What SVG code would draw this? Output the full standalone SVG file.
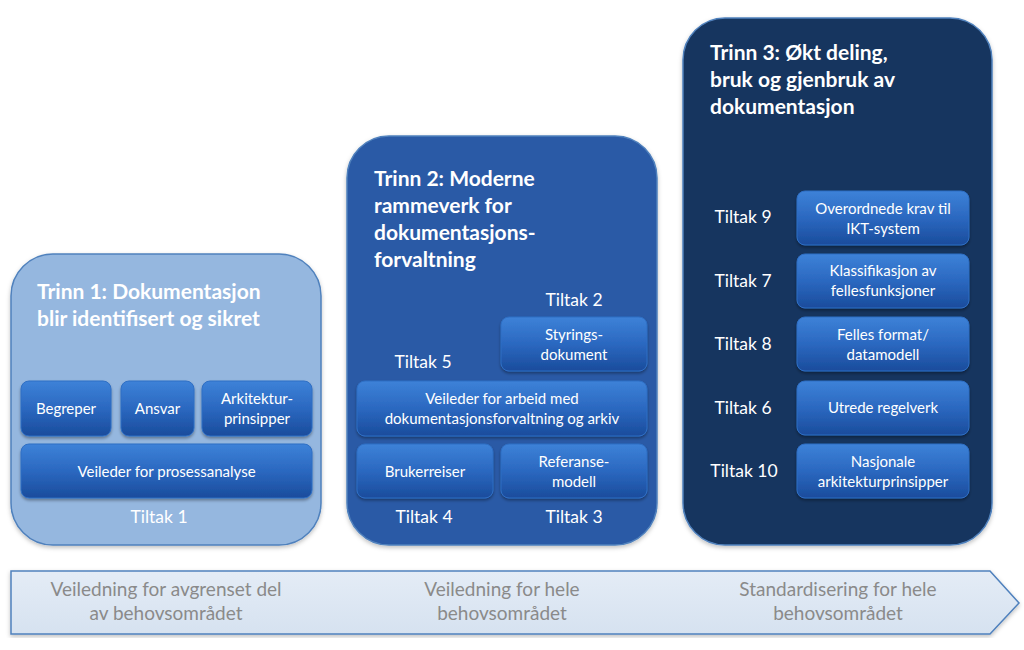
<svg xmlns="http://www.w3.org/2000/svg" width="1024" height="650" viewBox="0 0 1024 650">
<defs>
<linearGradient id="bx" x1="0" y1="0" x2="0" y2="1">
<stop offset="0" stop-color="#3d82d8"/>
<stop offset="0.5" stop-color="#2b68c0"/>
<stop offset="1" stop-color="#1a4c9c"/>
</linearGradient>
<linearGradient id="ag" x1="0" y1="0" x2="0" y2="1">
<stop offset="0" stop-color="#e4ecf6"/>
<stop offset="1" stop-color="#d6e2f0"/>
</linearGradient>
<filter id="sh" x="-10%" y="-10%" width="120%" height="130%">
<feDropShadow dx="0" dy="2" stdDeviation="1.5" flood-color="#000" flood-opacity="0.35"/>
</filter>
<filter id="psh" x="-5%" y="-5%" width="110%" height="110%">
<feDropShadow dx="0" dy="2" stdDeviation="2" flood-color="#000" flood-opacity="0.25"/>
</filter>
</defs>
<style>
.bx{fill:url(#bx);stroke:#2f6fc4;stroke-width:1;filter:url(#sh)}
.bt{font-family:Lato,"Open Sans",sans-serif;font-size:15px;fill:#fff;text-anchor:middle}
.tt{font-family:Lato,"Open Sans",sans-serif;font-size:21px;font-weight:bold;fill:#fff}
.tk{font-family:Lato,"Open Sans",sans-serif;font-size:17.5px;fill:#fff;text-anchor:middle}
.ar{font-family:Lato,"Open Sans",sans-serif;font-size:19px;fill:#8a8a8a;text-anchor:middle}
</style>
<rect width="1024" height="650" fill="#fff"/>

<g id="arrow">
<polygon points="11,571 990,571 1019,603 990,634 11,634" fill="url(#ag)" stroke="#4f81bd" stroke-width="1.5" filter="url(#psh)"/>
<text class="ar" x="166" y="596">Veiledning for avgrenset del</text>
<text class="ar" x="166" y="620">av behovsområdet</text>
<text class="ar" x="502" y="596">Veiledning for hele</text>
<text class="ar" x="502" y="620">behovsområdet</text>
<text class="ar" x="838" y="596">Standardisering for hele</text>
<text class="ar" x="838" y="620">behovsområdet</text>
</g>

<g id="trinn1">
<rect x="11" y="254" width="310" height="291" rx="42" fill="#95b7df" stroke="#4f81bd" stroke-width="1.5" filter="url(#psh)"/>
<text class="tt" x="37" y="299">Trinn 1: Dokumentasjon</text>
<text class="tt" x="37" y="326">blir identifisert og sikret</text>
<g id="begreper"><rect class="bx" x="21" y="381" width="90" height="55" rx="8"/><text class="bt" x="66" y="414">Begreper</text></g>
<g id="ansvar"><rect class="bx" x="121" y="381" width="73" height="55" rx="8"/><text class="bt" x="157.5" y="414">Ansvar</text></g>
<g id="arkitektur"><rect class="bx" x="202" y="381" width="110" height="55" rx="8"/><text class="bt" x="257" y="404">Arkitektur-</text><text class="bt" x="257" y="424">prinsipper</text></g>
<g id="prosessanalyse"><rect class="bx" x="21" y="444" width="291" height="54" rx="8"/><text class="bt" x="166.5" y="477">Veileder for prosessanalyse</text></g>
<text class="tk" x="159" y="523">Tiltak 1</text>
</g>

<g id="trinn2">
<rect x="347" y="136" width="310" height="409" rx="42" fill="#2b5aa6" stroke="#4f81bd" stroke-width="1.5" filter="url(#psh)"/>
<text class="tt" x="374" y="186">Trinn 2: Moderne</text>
<text class="tt" x="374" y="213">rammeverk for</text>
<text class="tt" x="374" y="240">dokumentasjons-</text>
<text class="tt" x="374" y="267">forvaltning</text>
<text class="tk" x="574" y="306">Tiltak 2</text>
<g id="styring"><rect class="bx" x="501" y="317" width="146" height="54" rx="8"/><text class="bt" x="574" y="340">Styrings-</text><text class="bt" x="574" y="360">dokument</text></g>
<text class="tk" x="423" y="368">Tiltak 5</text>
<g id="veileder5"><rect class="bx" x="357" y="381" width="290" height="55" rx="8"/><text class="bt" x="502" y="404">Veileder for arbeid med</text><text class="bt" x="502" y="424">dokumentasjonsforvaltning og arkiv</text></g>
<g id="brukerreiser"><rect class="bx" x="357" y="444" width="136" height="54" rx="8"/><text class="bt" x="425" y="477">Brukerreiser</text></g>
<g id="referanse"><rect class="bx" x="501" y="444" width="146" height="54" rx="8"/><text class="bt" x="574" y="467">Referanse-</text><text class="bt" x="574" y="487">modell</text></g>
<text class="tk" x="424" y="523">Tiltak 4</text>
<text class="tk" x="574" y="523">Tiltak 3</text>
</g>

<g id="trinn3">
<rect x="683" y="18" width="309" height="527" rx="42" fill="#17355e" stroke="#4f81bd" stroke-width="1.5" filter="url(#psh)"/>
<text class="tt" x="710" y="60">Trinn 3: Økt deling,</text>
<text class="tt" x="710" y="87">bruk og gjenbruk av</text>
<text class="tt" x="710" y="114">dokumentasjon</text>
<text class="tk" x="743" y="223">Tiltak 9</text>
<g id="krav"><rect class="bx" x="797" y="191" width="172" height="54" rx="8"/><text class="bt" x="883" y="214">Overordnede krav til</text><text class="bt" x="883" y="234">IKT-system</text></g>
<text class="tk" x="743" y="287">Tiltak 7</text>
<g id="klass"><rect class="bx" x="797" y="254" width="172" height="54" rx="8"/><text class="bt" x="883" y="276">Klassifikasjon av</text><text class="bt" x="883" y="296">fellesfunksjoner</text></g>
<text class="tk" x="743" y="350">Tiltak 8</text>
<g id="format"><rect class="bx" x="797" y="317" width="172" height="54" rx="8"/><text class="bt" x="883" y="340">Felles format/</text><text class="bt" x="883" y="360">datamodell</text></g>
<text class="tk" x="743" y="414">Tiltak 6</text>
<g id="regelverk"><rect class="bx" x="797" y="381" width="172" height="54" rx="8"/><text class="bt" x="883" y="413">Utrede regelverk</text></g>
<text class="tk" x="744" y="477">Tiltak 10</text>
<g id="nasjonale"><rect class="bx" x="797" y="444" width="172" height="54" rx="8"/><text class="bt" x="883" y="467">Nasjonale</text><text class="bt" x="883" y="487">arkitekturprinsipper</text></g>
</g>
</svg>
